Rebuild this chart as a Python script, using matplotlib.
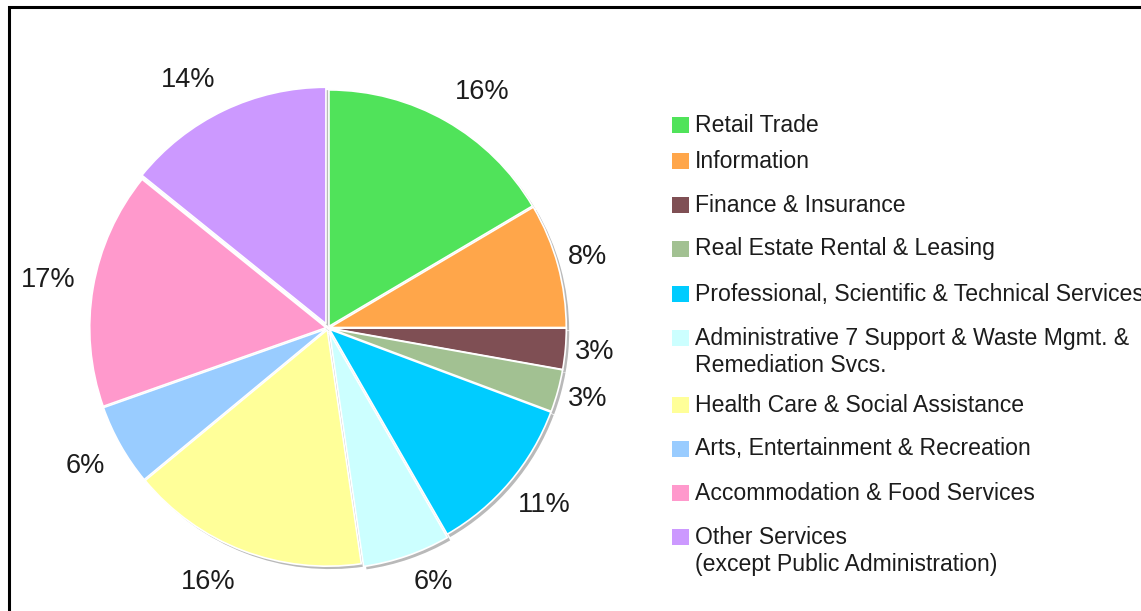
import numpy as np
import matplotlib
matplotlib.use("Agg")
import matplotlib.pyplot as plt
from matplotlib.patches import Rectangle

plt.rcParams['font.family'] = ['Liberation Sans', 'DejaVu Sans']

# ---- data ----
categories = [
    "Retail Trade",
    "Information",
    "Finance & Insurance",
    "Real Estate Rental & Leasing",
    "Professional, Scientific & Technical Services",
    "Administrative 7 Support & Waste Mgmt. &\nRemediation Svcs.",
    "Health Care & Social Assistance",
    "Arts, Entertainment & Recreation",
    "Accommodation & Food Services",
    "Other Services\n(except Public Administration)",
]
shares = [16.5, 8.5, 2.8, 2.9, 11.0, 6.0, 16.3, 5.6, 16.2, 14.2]
pct_labels = ["16%", "8%", "3%", "3%", "11%", "6%", "16%", "6%", "17%", "14%"]
colors = ["#50E35A", "#FFA64A", "#7F4F54", "#A2C192", "#00CCFF",
          "#CCFFFF", "#FFFF99", "#99CCFF", "#FF99CC", "#CC99FF"]

# ---- layout ----
W, H = 1141, 611
fig = plt.figure(figsize=(W / 100, H / 100), dpi=100)
fig.patch.set_facecolor("white")

def fx(x):
    return x / W

def fy(y):
    return 1 - y / H

cx, cy, R = 328, 328, 240
ax = fig.add_axes([fx(cx - R), fy(cy + R), 2 * R / W, 2 * R / H])
ax.set_xlim(-1, 1)
ax.set_ylim(-1, 1)
ax.axis("off")

explode = [0.008, 0.008, 0.008, 0.008, 0.008, 0.02, 0.008, 0.008, 0.008, 0.02]
rad = 0.985

# shadow pie
ax.pie(shares, explode=explode, radius=rad, startangle=90, counterclock=False,
       colors=["#B9B9B9"] * len(shares), center=(0.012, -0.012),
       wedgeprops=dict(linewidth=0))

# main pie
wedges, texts = ax.pie(shares, explode=explode, radius=rad, startangle=90,
                       counterclock=False, colors=colors, labels=pct_labels,
                       labeldistance=1.17,
                       wedgeprops=dict(edgecolor="white", linewidth=1.2),
                       textprops=dict(fontsize=19.5, color="#1c1c1c"))
ax.set_xlim(-1, 1)
ax.set_ylim(-1, 1)

# label placement (distance in pie radii, angular nudge in degrees)
label_dist = [1.175, 1.12, 1.117, 1.12, 1.167, 1.146, 1.17, 1.163, 1.183, 1.188]
label_shift = [-3.4, 0, 0, 0, 1.0, 3.4, -4.3, 0, 0, 3.8]
for w, t, d, s in zip(wedges, texts, label_dist, label_shift):
    ang = np.deg2rad((w.theta1 + w.theta2) / 2 + s)
    t.set_position((d * np.cos(ang), d * np.sin(ang)))
    t.set_ha("center")
    t.set_va("center")

# ---- manual legend ----
row_gaps = [36, 44, 44, 45, 44, 67, 44, 44, 44]
line_step = 28
y = 125
rows = [y]
for g in row_gaps:
    y += g
    rows.append(y)

for cat, col, yy in zip(categories, colors, rows):
    fig.add_artist(Rectangle((fx(672), fy(yy + 8)), 17 / W, 16 / H,
                             transform=fig.transFigure, facecolor=col,
                             edgecolor="none"))
    for i, line in enumerate(cat.split("\n")):
        fig.text(fx(695), fy(yy + i * line_step), line, fontsize=16.6,
                 color="#1c1c1c", ha="left", va="center")

# ---- outer frame ----
fig.add_artist(Rectangle((fx(9), fy(H + 20)), (W + 20) / W, (H + 20 - 7) / H,
                         transform=fig.transFigure, facecolor="none",
                         edgecolor="black", linewidth=2.2))

fig.savefig("out.png", dpi=100)
